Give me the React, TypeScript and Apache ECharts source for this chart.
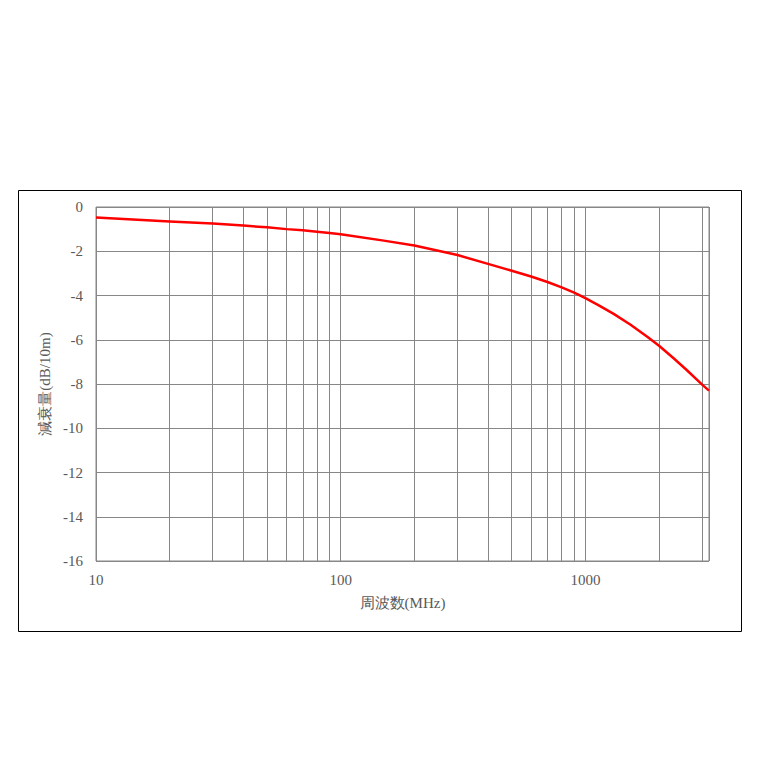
import React, { useEffect, useRef } from "react";
import * as echarts from "echarts";

const frequencies = [10, 20, 30, 40, 50, 60, 70, 80, 90, 100, 150, 200, 300, 400, 500, 600, 700, 800, 900, 1000, 1120, 1300, 1530, 1790, 2000, 2300, 2600, 3000, 3200];
const attenuation = [-0.47, -0.65, -0.75, -0.84, -0.92, -1.0, -1.05, -1.12, -1.17, -1.23, -1.52, -1.74, -2.17, -2.57, -2.88, -3.14, -3.39, -3.63, -3.87, -4.12, -4.41, -4.82, -5.32, -5.86, -6.27, -6.85, -7.38, -8.03, -8.3];
const minorGridValues = [20, 30, 40, 50, 60, 70, 80, 90, 200, 300, 400, 500, 600, 700, 800, 900, 2000, 3000];
const xMin = 10;
const xMax = 3200;
const yMin = -16;
const yMax = 0;
const yInterval = 2;
const xAxisTitle = "周波数(MHz)";
const yAxisTitle = "減衰量(dB/10m)";

const FONT = "Liberation Serif";
const GRID = "#878787";
const TEXT = "#595959";

export default function App() {
  const ref = useRef<HTMLDivElement>(null);
  useEffect(() => {
    if (!ref.current) return;
    const chart = echarts.init(ref.current, undefined, { renderer: "svg" });
    chart.setOption({
      animation: false,
      backgroundColor: "#ffffff",
      graphic: [
        {
          type: "rect",
          shape: { x: 18.5, y: 190.5, width: 723, height: 441 },
          style: { fill: "none", stroke: "#000000", lineWidth: 1 },
          silent: true,
          z: -10,
        },
      ],
      grid: {
        left: 96,
        top: 207,
        right: 51,
        bottom: 199,
        show: true,
        borderColor: GRID,
        borderWidth: 1,
        backgroundColor: "transparent",
      },
      xAxis: {
        type: "log",
        logBase: 10,
        min: xMin,
        max: xMax,
        name: xAxisTitle,
        nameLocation: "middle",
        nameGap: 34,
        nameTextStyle: { fontFamily: FONT, fontSize: 15, color: TEXT },
        axisLine: { show: false },
        axisTick: { show: false },
        axisLabel: {
          fontFamily: FONT,
          fontSize: 15,
          color: TEXT,
          margin: 11,
          showMaxLabel: false,
          formatter: (v: number) => String(Math.round(v)),
        },
        splitLine: { show: true, lineStyle: { color: GRID, width: 1 } },
      },
      yAxis: {
        type: "value",
        min: yMin,
        max: yMax,
        interval: yInterval,
        name: yAxisTitle,
        nameLocation: "middle",
        nameRotate: 90,
        nameGap: 38,
        nameTextStyle: { fontFamily: FONT, fontSize: 15, color: TEXT },
        axisLine: { show: false },
        axisTick: { show: false },
        axisLabel: { fontFamily: FONT, fontSize: 15, color: TEXT, margin: 13 },
        splitLine: { show: true, lineStyle: { color: GRID, width: 1 } },
      },
      series: [
        {
          type: "line",
          data: frequencies.map((f, i) => [f, attenuation[i]]),
          showSymbol: false,
          smooth: false,
          lineStyle: { color: "#ff0000", width: 2.5, join: "round" },
          itemStyle: { color: "#ff0000" },
          markLine: {
            silent: true,
            symbol: "none",
            label: { show: false },
            lineStyle: { color: GRID, width: 1, type: "solid" },
            data: minorGridValues.map((v) => ({ xAxis: v })),
            z: 0,
          },
          z: 5,
        },
      ],
    });
    return () => chart.dispose();
  }, []);
  return (
    <div
      ref={ref}
      style={{ position: "fixed", left: 0, top: 0, width: 760, height: 760 }}
    />
  );
}
